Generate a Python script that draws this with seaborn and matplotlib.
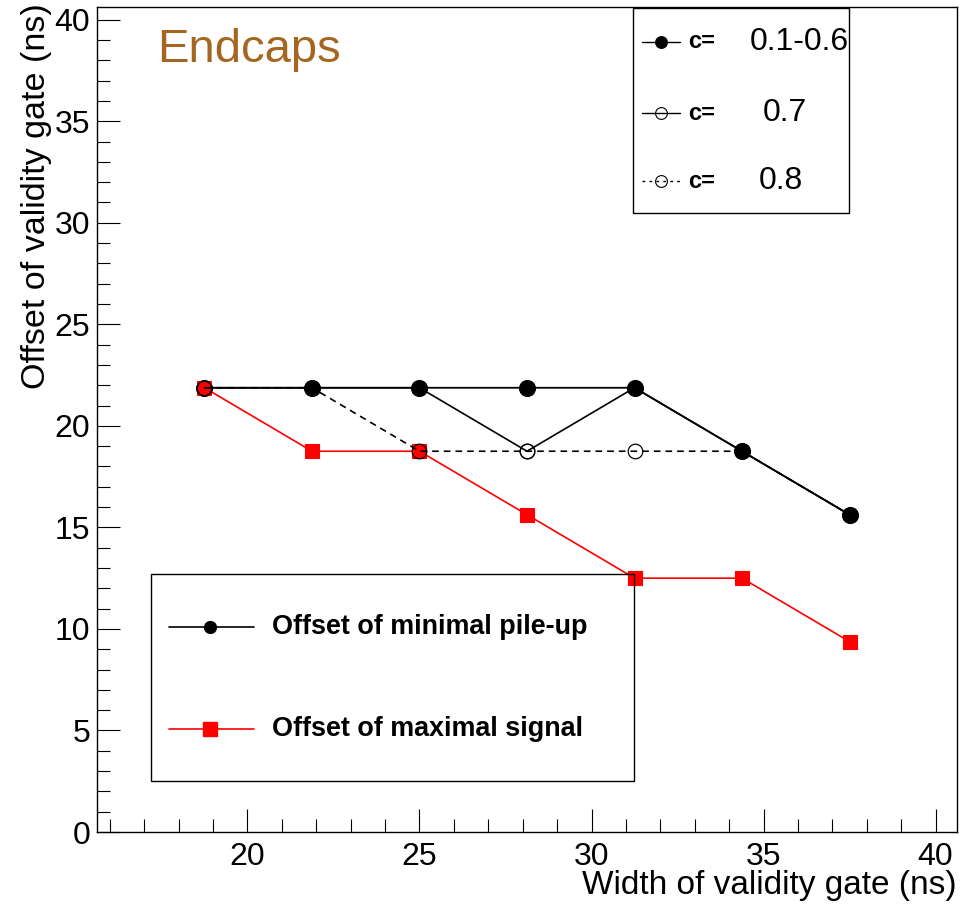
import matplotlib
matplotlib.use("Agg")
import matplotlib.pyplot as plt
from matplotlib.ticker import MultipleLocator
from matplotlib.patches import Rectangle
import seaborn as sns

# Gate width (ns) and the offsets (ns) found for each configuration
gate_width = [18.75, 21.875, 25.0, 28.125, 31.25, 34.375, 37.5]
offset_pileup_c01_06 = [21.875, 21.875, 21.875, 21.875, 21.875, 18.75, 15.625]
offset_pileup_c07 = [21.875, 21.875, 21.875, 18.75, 21.875, 18.75, 15.625]
offset_pileup_c08 = [21.875, 21.875, 18.75, 18.75, 18.75, 18.75, 15.625]
offset_max_signal = [21.875, 18.75, 18.75, 15.625, 12.5, 12.5, 9.375]

c_labels = ["0.1-0.6", "0.7", "0.8"]
series_labels = ["Offset of minimal pile-up", "Offset of maximal signal"]

sns.set_theme(style="ticks")
plt.rcParams["font.family"] = ["Liberation Sans", "DejaVu Sans"]
plt.rcParams["text.color"] = "black"
plt.rcParams["axes.labelcolor"] = "black"
plt.rcParams["xtick.labelcolor"] = "black"
plt.rcParams["ytick.labelcolor"] = "black"

fig = plt.figure(figsize=(9.63, 9.08), dpi=100)
ax = fig.add_axes([0.1007, 0.0837, 0.8931, 0.9086])

RED = "#ff0000"

sns.lineplot(x=gate_width, y=offset_pileup_c01_06, ax=ax, color="black",
             lw=1.3, marker="o", markersize=11.5, markerfacecolor="black",
             markeredgecolor="black", markeredgewidth=0.8, zorder=2)
sns.lineplot(x=gate_width, y=offset_max_signal, ax=ax, color=RED,
             lw=1.2, marker="s", markersize=10, markerfacecolor=RED,
             markeredgecolor=RED, markeredgewidth=0.8, zorder=3)
sns.lineplot(x=gate_width, y=offset_pileup_c07, ax=ax, color="black",
             lw=1.2, marker="o", markersize=10.5, markerfacecolor="none",
             markeredgecolor="black", markeredgewidth=0.9, zorder=4)
sns.lineplot(x=gate_width, y=offset_pileup_c08, ax=ax, color="black",
             lw=1.2, linestyle=(0, (4, 3)), marker="o", markersize=10.5,
             markerfacecolor="none", markeredgecolor="black",
             markeredgewidth=0.9, zorder=4)

ax.set_xlim(15.625, 40.625)
ax.set_ylim(0, 40.625)
ax.xaxis.set_major_locator(MultipleLocator(5))
ax.xaxis.set_minor_locator(MultipleLocator(1))
ax.yaxis.set_major_locator(MultipleLocator(5))
ax.yaxis.set_minor_locator(MultipleLocator(1))
ax.tick_params(which="both", direction="in", width=0.8, color="black",
               top=False, right=False)
ax.tick_params(which="major", length=16.5, labelsize=23)
ax.tick_params(axis="x", which="major", pad=7)
ax.tick_params(axis="y", which="major", pad=5)
ax.tick_params(which="minor", length=9.4)
for sp in ax.spines.values():
    sp.set_color("black")
    sp.set_linewidth(1.0)

ax.set_xlabel("Width of validity gate (ns)", fontsize=24, loc="right")
ax.set_ylabel("Offset of validity gate (ns)", fontsize=24.5, loc="top")
ax.xaxis.set_label_coords(1.0, -0.046)
ax.yaxis.set_label_coords(-0.052, 1.004)

ax.text(0.0698, 0.9333, "Endcaps", transform=ax.transAxes, fontsize=34,
        color="#a5671f", ha="left", va="baseline")

# Legend for the c parameter (top right)
ax.add_patch(Rectangle((0.623, 0.750), 0.251, 0.249, transform=ax.transAxes,
                       fill=False, edgecolor="black", lw=1.0, zorder=6))
c_styles = [
    dict(ls="-", mfc="black"),
    dict(ls="-", mfc="none"),
    dict(ls=(0, (2, 3)), mfc="none"),
]
c_rows = [0.9576, 0.8715, 0.789]
c_value_x = [0.759, 0.774, 0.770]
for lab, st, yy, vx in zip(c_labels, c_styles, c_rows, c_value_x):
    ax.plot([0.634, 0.678], [yy, yy], transform=ax.transAxes, color="black",
            lw=1.0, ls=st["ls"], zorder=6, clip_on=False)
    ax.plot([0.656], [yy], transform=ax.transAxes, marker="o", markersize=8.5,
            markerfacecolor=st["mfc"], markeredgecolor="black",
            markeredgewidth=0.8, ls="none", zorder=7, clip_on=False)
    ax.text(0.687, yy, "c=", transform=ax.transAxes, fontsize=17,
            fontweight="bold", ha="left", va="center", zorder=7)
    ax.text(vx, yy, lab, transform=ax.transAxes, fontsize=23,
            ha="left", va="center", zorder=7)

# Legend for the two offsets (bottom left)
ax.add_patch(Rectangle((0.0628, 0.0618), 0.5616, 0.2509, transform=ax.transAxes,
                       fill=False, edgecolor="black", lw=1.0, zorder=6))
leg_rows = [0.2485, 0.1248]
leg_colors = ["black", RED]
leg_markers = ["o", "s"]
leg_msize = [8.5, 10]
for lab, yy, col, mk, ms in zip(series_labels, leg_rows, leg_colors,
                                leg_markers, leg_msize):
    ax.plot([0.0837, 0.1826], [yy, yy], transform=ax.transAxes, color=col,
            lw=1.2, zorder=6)
    ax.plot([0.1314], [yy], transform=ax.transAxes, marker=mk, markersize=ms,
            markerfacecolor=col, markeredgecolor=col, ls="none", zorder=7)
    ax.text(0.2035, yy, lab, transform=ax.transAxes, fontsize=19.4,
            fontweight="bold", ha="left", va="center", zorder=7)

fig.savefig("out.png", dpi=100, facecolor="white")
